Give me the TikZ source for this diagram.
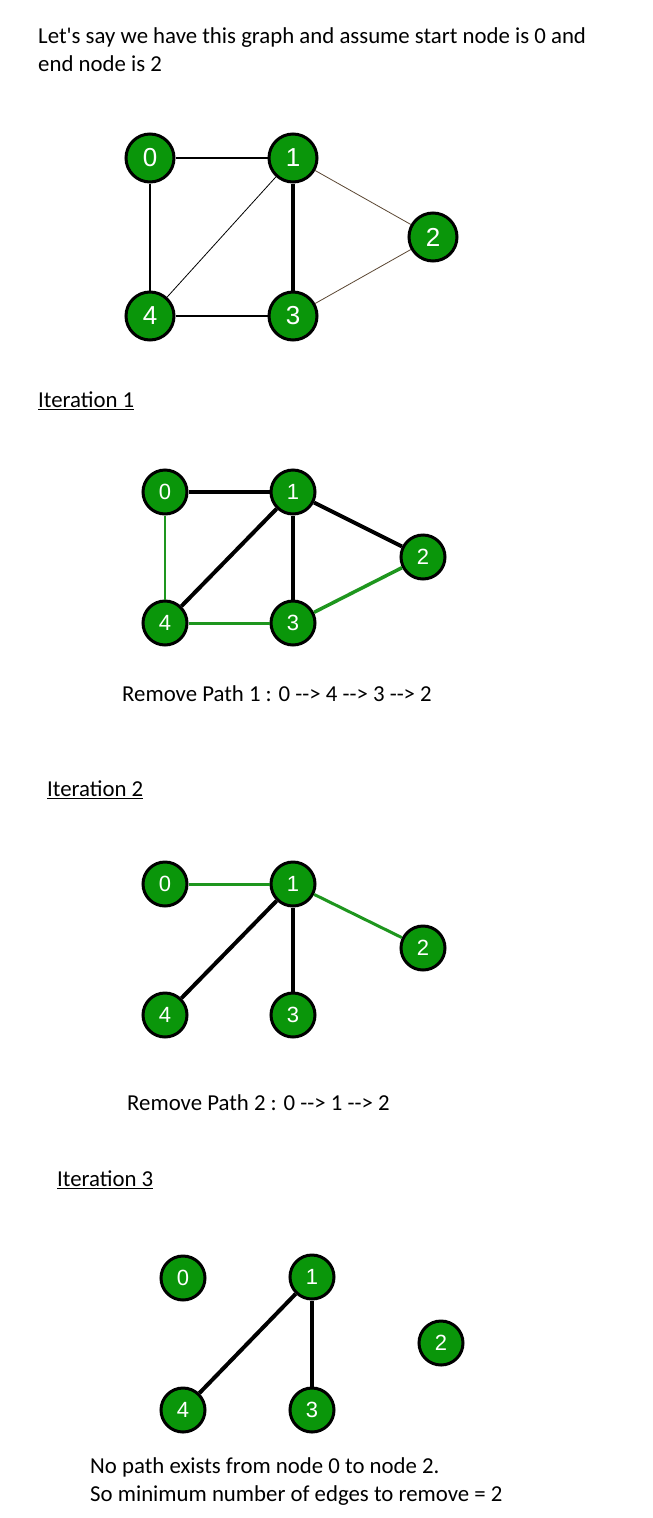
\documentclass[tikz,border=0pt]{standalone}
\usepackage{fontspec}
\setmainfont{Carlito}
\newfontfamily\digitfont{Liberation Sans}
\definecolor{nodegreen}{RGB}{10,150,10}
\definecolor{pathgreen}{RGB}{30,150,30}
\definecolor{edgebrown}{RGB}{90,70,50}

\begin{document}
\begin{tikzpicture}[x=1pt,y=-1pt,
  vertex/.style={circle,draw=black,line width=3pt,fill=nodegreen,text=white,
    minimum size=44pt,inner sep=0pt,font=\digitfont\fontsize{22}{22}\selectfont},
  bigvertex/.style={vertex,minimum size=48pt,font=\digitfont\fontsize{26}{26}\selectfont},
  heavy/.style={line width=4pt},
  removed/.style={pathgreen,line width=3pt},
  caption/.style={anchor=west,inner sep=0pt,font=\fontsize{22.8}{28}\selectfont,align=left}]

\useasboundingbox (0,0) rectangle (653,1518);

\node[caption] (intro) at (38,50) {Let\textquotesingle s say we have this graph and assume start node is 0 and\\end node is 2};

% the graph
\node[bigvertex] (a0) at (150,158) {0};
\node[bigvertex] (a1) at (293,158) {1};
\node[bigvertex] (a2) at (433,237) {2};
\node[bigvertex] (a3) at (293,316) {3};
\node[bigvertex] (a4) at (150,316) {4};
\draw[line width=2pt] (a0)--(a1);
\draw[line width=1.2pt] (a0)--(a4);
\draw[line width=0.8pt] (a1)--(a4);
\draw[heavy] (a1)--(a3);
\draw[line width=2pt] (a4)--(a3);
\draw[edgebrown,line width=0.8pt] (a1)--(a2);
\draw[edgebrown,line width=0.8pt] (a3)--(a2);

% iteration 1
\node[caption] (it1) at (38,401) {\underline{Iteration 1}};
\node[vertex] (b0) at (165,492) {0};
\node[vertex] (b1) at (293,492) {1};
\node[vertex] (b2) at (423,557) {2};
\node[vertex] (b3) at (293,623) {3};
\node[vertex] (b4) at (165,623) {4};
\draw[heavy] (b0)--(b1);
\draw[heavy] (b1)--(b4);
\draw[heavy] (b1)--(b3);
\draw[heavy] (b1)--(b2);
\draw[removed,line width=2pt] (b0)--(b4);
\draw[removed] (b4)--(b3);
\draw[removed,line width=3.5pt] (b3)--(b2);
\node[caption] (rm1) at (122,694) {Remove Path 1 : 0 -{}-> 4 -{}-> 3 -{}-> 2};

% iteration 2
\node[caption] (it2) at (47,790) {\underline{Iteration 2}};
\node[vertex] (c0) at (165,884) {0};
\node[vertex] (c1) at (293,884) {1};
\node[vertex] (c2) at (423,948) {2};
\node[vertex] (c3) at (293,1015) {3};
\node[vertex] (c4) at (165,1015) {4};
\draw[removed] (c0)--(c1);
\draw[removed] (c1)--(c2);
\draw[heavy] (c1)--(c4);
\draw[heavy] (c1)--(c3);
\node[caption] (rm2) at (127,1103) {Remove Path 2 : 0 -{}-> 1 -{}-> 2};

% iteration 3
\node[caption] (it3) at (57,1180) {\underline{Iteration 3}};
\node[vertex] (d0) at (183,1278) {0};
\node[vertex] (d1) at (312,1277) {1};
\node[vertex] (d2) at (441,1343) {2};
\node[vertex] (d3) at (312,1410) {3};
\node[vertex] (d4) at (183,1410) {4};
\draw[heavy] (d1)--(d4);
\draw[heavy] (d1)--(d3);
\node[caption] (result) at (90,1482) {No path exists from node 0 to node 2.\\So minimum number of edges to remove = 2};

\end{tikzpicture}
\end{document}
